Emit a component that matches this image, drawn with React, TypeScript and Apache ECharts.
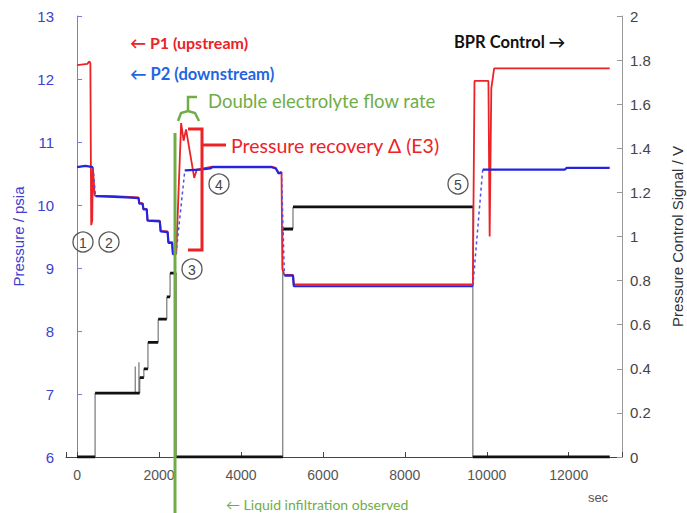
import React, { useEffect, useRef } from "react";
import * as echarts from "echarts";

// ---- Data (time in sec) ----
// P2 (downstream), left axis, psia
const p2Time = [0, 200, 390, 450, 900, 1200, 1500, 1520, 1600, 1620, 1700, 1720, 2020, 2040, 2210, 2230, 2320, 2340, 2415, 2630, 3000, 3250, 3300, 4750, 4850, 4920, 4990, 5060, 5270, 5290, 9660, 9900, 11900, 11950, 13000];
const p2Value = [10.6, 10.62, 10.6, 10.14, 10.13, 10.12, 10.11, 10.02, 10.02, 9.93, 9.93, 9.75, 9.74, 9.58, 9.57, 9.4, 9.4, 9.22, 9.22, 10.55, 10.56, 10.58, 10.6, 10.6, 10.58, 10.5, 10.52, 8.88, 8.88, 8.71, 8.71, 10.56, 10.56, 10.59, 10.59];
// transitions of P2 drawn dashed (start time of the dashed segment)
const p2DashedFrom = [390, 2415, 4990, 9660];

// P1 (upstream), left axis, psia
const p1Time = [0, 250, 300, 325, 345, 370, 385, 430, 900, 1500, 1520, 1600, 1620, 1700, 1720, 2020, 2040, 2210, 2230, 2320, 2340, 2420, 2540, 2600, 2660, 2860, 2920, 3300, 4750, 4850, 4920, 4990, 5010, 5060, 5270, 5290, 9660, 9700, 10040, 10070, 10110, 10180, 13000];
const p1Value = [12.22, 12.24, 12.28, 12.25, 9.68, 9.75, 10.6, 10.15, 10.14, 10.12, 10.03, 10.03, 9.94, 9.94, 9.76, 9.75, 9.59, 9.58, 9.41, 9.41, 9.23, 9.22, 11.3, 11.02, 11.2, 10.43, 10.56, 10.61, 10.61, 10.59, 10.51, 10.52, 8.98, 8.89, 8.89, 8.74, 8.74, 11.97, 11.97, 9.5, 11.85, 12.17, 12.17];

// BPR control signal, right axis, V (step levels)
const bprStart = [0, 440, 1530, 1630, 1730, 1980, 2190, 2270, 2420, 5020, 5270, 9660];
const bprLevel = [0, 0.29, 0.36, 0.4, 0.52, 0.625, 0.726, 0.834, 0, 1.034, 1.134, 0];
const bprEnd = 13000;
const bprSpikeTime = [1420, 1510];
const bprSpikeTop = [0.41, 0.43];

const leftTicks = [6, 7, 8, 9, 10, 11, 12, 13];
const rightTicks = [0, 0.2, 0.4, 0.6, 0.8, 1, 1.2, 1.4, 1.6, 1.8, 2];

const RED = "#ec2227";
const BLUE = "#2424e0";
const GREEN = "#70ad47";
const AXIS_BLUE = "#4040d0";
const SANS = "Liberation Sans";

function buildP2() {
  const solid: any[] = [];
  const dashed: any[] = [];
  for (let i = 0; i < p2Time.length; i++) {
    solid.push([p2Time[i], p2Value[i]]);
    if (p2DashedFrom.includes(p2Time[i]) && i + 1 < p2Time.length) {
      solid.push([(p2Time[i] + p2Time[i + 1]) / 2, null]);
      dashed.push([p2Time[i], p2Value[i]]);
      dashed.push([p2Time[i + 1], p2Value[i + 1]]);
      dashed.push([(p2Time[i] + p2Time[i + 1]) / 2, null]);
    }
  }
  return { solid, dashed };
}

function buildBpr() {
  const flats: any[] = [];
  const risers: any[] = [];
  for (let i = 0; i < bprStart.length; i++) {
    const end = i + 1 < bprStart.length ? bprStart[i + 1] : bprEnd;
    flats.push([bprStart[i], bprLevel[i]]);
    flats.push([end, bprLevel[i]]);
    flats.push([end, null]);
    if (i > 0) {
      risers.push([bprStart[i], bprLevel[i - 1]]);
      risers.push([bprStart[i], bprLevel[i]]);
      risers.push([bprStart[i], null]);
    }
  }
  for (let k = 0; k < bprSpikeTime.length; k++) {
    const t = bprSpikeTime[k];
    let base = 0;
    for (let i = 0; i < bprStart.length; i++) if (bprStart[i] <= t) base = bprLevel[i];
    risers.push([t, base]);
    risers.push([t, bprSpikeTop[k]]);
    risers.push([t, null]);
  }
  return { flats, risers };
}

function circled(n: string, x: number, y: number) {
  return [
    { type: "circle", shape: { cx: x, cy: y, r: 10 }, style: { fill: "none", stroke: "#555", lineWidth: 1.3 }, z: 100 },
    { type: "text", x, y: y + 0.5, style: { text: n, fill: "#444", font: `14px ${SANS}`, textAlign: "center", textVerticalAlign: "middle" }, z: 100 },
  ];
}

export default function App() {
  const ref = useRef<HTMLDivElement>(null);
  useEffect(() => {
    if (!ref.current) return;
    const chart = echarts.init(ref.current, undefined, { renderer: "svg" });
    const p2 = buildP2();
    const bpr = buildBpr();
    const p1 = p1Time.map((t, i) => [t, p1Value[i]]);
    const option: any = {
      animation: false,
      backgroundColor: "#fff",
      grid: { left: 66, right: 65, top: 16, bottom: 56, containLabel: false, outerBoundsMode: "none" },
      xAxis: {
        type: "value",
        min: -270,
        max: 13300,
        splitNumber: 7,
        axisLine: { show: true, lineStyle: { color: "#444", width: 1 } },
        axisTick: { show: true, inside: true, length: 5, lineStyle: { color: "#444" } },
        axisLabel: {
          color: "#555",
          fontSize: 14,
          fontFamily: SANS,
          margin: 11,
          formatter: (v: number) => (Math.abs(v % 2000) < 1e-6 ? String(v) : ""),
        },
        splitLine: { show: false },
      },
      yAxis: [
        {
          type: "value",
          position: "left",
          min: leftTicks[0],
          max: leftTicks[leftTicks.length - 1],
          interval: 1,
          name: "Pressure / psia",
          nameLocation: "middle",
          nameRotate: 90,
          nameGap: 29,
          nameTextStyle: { color: AXIS_BLUE, fontSize: 15, fontFamily: SANS },
          axisLine: { show: true, lineStyle: { color: "#7a7ae0", width: 1 } },
          axisTick: { show: true, inside: true, length: 5, lineStyle: { color: "#7a7ae0" } },
          axisLabel: { color: AXIS_BLUE, fontSize: 15, fontFamily: SANS, margin: 12 },
          splitLine: { show: false },
        },
        {
          type: "value",
          position: "right",
          min: rightTicks[0],
          max: rightTicks[rightTicks.length - 1],
          interval: 0.2,
          name: "Pressure Control Signal / V",
          nameLocation: "middle",
          nameRotate: 90,
          nameGap: 48,
          nameTextStyle: { color: "#333", fontSize: 15, fontFamily: SANS },
          axisLine: { show: true, lineStyle: { color: "#999", width: 1 } },
          axisTick: { show: true, inside: true, length: 5, lineStyle: { color: "#999" } },
          axisLabel: {
            color: "#444",
            fontSize: 15,
            fontFamily: SANS,
            margin: 8,
            formatter: (v: number) => String(Math.round(v * 10) / 10),
          },
          splitLine: { show: false },
        },
      ],
      series: [
        {
          name: "BPR risers",
          type: "line",
          yAxisIndex: 1,
          data: bpr.risers,
          showSymbol: false,
          symbol: "none",
          connectNulls: false,
          lineStyle: { color: "#777", width: 1.2 },
          z: 2,
        },
        {
          name: "BPR Control",
          type: "line",
          yAxisIndex: 1,
          data: bpr.flats,
          showSymbol: false,
          symbol: "none",
          connectNulls: false,
          lineStyle: { color: "#111", width: 2.8 },
          z: 3,
        },
        {
          name: "P1 (upstream)",
          type: "line",
          yAxisIndex: 0,
          data: p1,
          showSymbol: false,
          symbol: "none",
          lineStyle: { color: RED, width: 1.8 },
          z: 4,
        },
        {
          name: "P2 transitions",
          type: "line",
          yAxisIndex: 0,
          data: p2.dashed,
          showSymbol: false,
          symbol: "none",
          connectNulls: false,
          lineStyle: { color: "#5050ee", width: 1.5, type: [3, 3] },
          z: 5,
        },
        {
          name: "P2 (downstream)",
          type: "line",
          yAxisIndex: 0,
          data: p2.solid,
          showSymbol: false,
          symbol: "none",
          connectNulls: false,
          lineStyle: { color: BLUE, width: 2.2 },
          z: 6,
        },
      ],
      graphic: [
        // green flow-rate marker line
        { type: "line", shape: { x1: 175, y1: 133, x2: 175, y2: 513 }, style: { stroke: GREEN, lineWidth: 3 }, z: 90 },
        // green brace
        { type: "polyline", shape: { points: [[178, 121], [181, 113], [188, 111], [195, 113], [199, 121]] }, style: { stroke: GREEN, lineWidth: 2.5, fill: "none" }, z: 90 },
        { type: "polyline", shape: { points: [[188, 111], [188, 97], [197, 97]] }, style: { stroke: GREEN, lineWidth: 2.5, fill: "none" }, z: 90 },
        // red bracket
        { type: "polyline", shape: { points: [[188, 129], [202, 129], [202, 250], [188, 250]] }, style: { stroke: RED, lineWidth: 3, fill: "none" }, z: 90 },
        { type: "line", shape: { x1: 202, y1: 145, x2: 226, y2: 145 }, style: { stroke: RED, lineWidth: 3 }, z: 90 },
        // labels
        { type: "text", x: 130, y: 42, style: { text: "← P1 (upstream)", fill: RED, font: "bold 16px Lato, 'Open Sans', sans-serif", textVerticalAlign: "middle" }, z: 100 },
        { type: "text", x: 130, y: 74, style: { text: "← P2 (downstream)", fill: "#1f66e0", font: "bold 16.5px Lato, 'Open Sans', sans-serif", textVerticalAlign: "middle" }, z: 100 },
        { type: "text", x: 208, y: 101, style: { text: "Double electrolyte flow rate", fill: GREEN, font: "18.5px Lato, 'Open Sans', sans-serif", textVerticalAlign: "middle" }, z: 100 },
        { type: "text", x: 231, y: 145, style: { text: "Pressure recovery Δ (E3)", fill: RED, font: "19.5px Lato, 'Open Sans', sans-serif", textVerticalAlign: "middle" }, z: 100 },
        { type: "text", x: 454, y: 42, style: { text: "BPR Control →", fill: "#111", font: "bold 16.5px Lato, 'Open Sans', sans-serif", textVerticalAlign: "middle" }, z: 100 },
        { type: "text", x: 226, y: 504, style: { text: "← Liquid infiltration observed", fill: GREEN, font: "14px Lato, 'Open Sans', sans-serif", textVerticalAlign: "middle" }, z: 100 },
        { type: "text", x: 598, y: 497, style: { text: "sec", fill: "#555", font: `13px ${SANS}`, textAlign: "center", textVerticalAlign: "middle" }, z: 100 },
        ...circled("1", 83, 242),
        ...circled("2", 109, 242),
        ...circled("3", 192, 269),
        ...circled("4", 219, 184),
        ...circled("5", 458, 184),
      ],
    };
    chart.setOption(option);
    return () => chart.dispose();
  }, []);
  return (
    <div
      ref={ref}
      style={{ position: "fixed", left: 0, top: 0, width: 687, height: 513, background: "#fff" }}
    />
  );
}
